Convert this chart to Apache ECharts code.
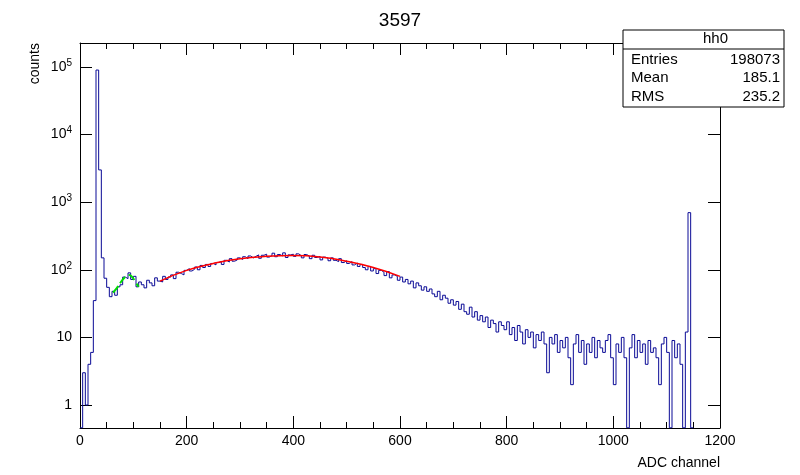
<!DOCTYPE html>
<html>
<head>
<meta charset="UTF-8">
<title>3597</title>
<script src="https://cdn.jsdelivr.net/npm/echarts/dist/echarts.min.js"></script>
<style>
  html, body { margin: 0; background: #fff; }
  #chart { width: 800px; height: 475px; }
</style>
</head>
<body>
<div id="chart"></div>
<script>
// histogram, 5-channel bins, starting at channel 0
const binWidth = 5;
const counts = [
  0.46, 3, 1, 4, 6, 35, 90000, 3000, 150, 75, 55, 40, 48, 42, 56, 60, 78, 74, 90, 72,
  80, 56, 66, 60, 54, 70, 64, 58, 76, 68, 66, 80, 72, 78, 84, 74, 92, 88, 84, 98,
  104, 96, 102, 110, 100, 116, 108, 120, 112, 124, 118, 128, 132, 120, 138, 130, 146, 134, 140, 150,
  142, 156, 146, 160, 150, 158, 166, 148, 164, 170, 154, 162, 176, 156, 168, 160, 178, 152, 166, 170,
  158, 172, 162, 150, 168, 160, 146, 164, 152, 158, 140, 154, 148, 136, 150, 138, 132, 146, 128, 136,
  124, 132, 118, 126, 112, 120, 108, 100, 112, 96, 104, 88, 98, 92, 82, 94, 76, 84, 80, 70,
  78, 66, 72, 62, 68, 54, 64, 58, 50, 56, 48, 52, 44, 40, 48, 36, 42, 38, 32, 36,
  30, 34, 26, 31, 24, 22, 28, 20, 24, 18, 21, 17, 20, 14, 18, 16, 12, 17, 15, 13,
  17, 11, 14, 9, 15, 12, 8, 13, 10, 12, 7, 11, 9, 12, 8, 3, 10, 8, 11, 6,
  9, 7, 10, 5, 2, 8, 11, 6, 9, 4, 8, 6, 10, 5, 9, 7, 6, 9, 11, 5,
  2, 8, 6, 10, 5, 0.46, 7, 11, 5, 9, 6, 8, 4, 9, 6, 7, 5, 2, 8, 10,
  6, 0.46, 9, 5, 8, 4, 0.46, 12, 700, 0.46
];
// fit curves [channel, value]
const greenFit = [[62, 46], [70, 55], [78, 68], [86, 80], [92, 84], [98, 78], [104, 66], [110, 56]];
const redFit = [[150, 68], [200, 98], [250, 124], [300, 146], [350, 158], [400, 162], [450, 155], [500, 134], [550, 108], [600, 80]];
const stats = [['Entries', '198073'], ['Mean', '185.1'], ['RMS', '235.2']];

const histData = counts.map((v, i) => [i * binWidth, v]);
histData.push([counts.length * binWidth, counts[counts.length - 1]]);

const font = 'Liberation Sans, Arial, sans-serif';
function logLabel(v) {
  const e = Math.round(Math.log10(v));
  if (Math.abs(Math.log10(v) - e) > 1e-6) return '';
  if (e === 0) return '1';
  if (e === 1) return '10';
  return '10{s|' + e + '}';
}

const xCommon = {
  type: 'value', min: 0, max: 1200, interval: 200,
  axisLine: { show: true, onZero: false, lineStyle: { color: '#000' } },
  axisTick: { inside: true, length: 12, lineStyle: { color: '#000' } },
  minorTick: { show: true, splitNumber: 4, length: 6, lineStyle: { color: '#000' } },
  splitLine: { show: false }
};
const yCommon = {
  type: 'log', min: 0.457, max: 226000, logBase: 10,
  axisLine: { show: true, onZero: false, lineStyle: { color: '#000' } },
  axisTick: { inside: true, length: 12, lineStyle: { color: '#000' } },
  splitLine: { show: false }
};

const option = {
  backgroundColor: '#fff',
  animation: false,
  title: {
    text: '3597', left: 'center', top: 6,
    textStyle: { fontFamily: font, fontSize: 19, fontWeight: 'normal', color: '#000' }
  },
  grid: { left: 80, right: 80, top: 43, bottom: 47 },
  xAxis: [
    Object.assign({}, xCommon, {
      position: 'bottom',
      name: 'ADC channel', nameLocation: 'end', nameGap: 0,
      nameTextStyle: { fontFamily: font, fontSize: 14, color: '#000', align: 'right', verticalAlign: 'top', padding: [28, 0, 0, 0] },
      axisLabel: { fontFamily: font, fontSize: 14, color: '#000', margin: 6, formatter: v => String(v) }
    }),
    Object.assign({}, xCommon, { position: 'top', axisLabel: { show: false } })
  ],
  yAxis: [
    Object.assign({}, yCommon, {
      position: 'left',
      name: 'counts', nameLocation: 'end', nameRotate: 90, nameGap: 0,
      nameTextStyle: { fontFamily: font, fontSize: 14, color: '#000', align: 'right', verticalAlign: 'bottom', padding: [0, 0, 38, 0] },
      axisLabel: {
        fontFamily: font, fontSize: 14, color: '#000', margin: 8,
        formatter: logLabel, showMinLabel: false, showMaxLabel: false,
        rich: { s: { fontSize: 10, verticalAlign: 'top', padding: [0, 0, 8, 0], fontFamily: font } }
      }
    }),
    Object.assign({}, yCommon, { position: 'right', axisLabel: { show: false } })
  ],
  series: [
    {
      type: 'line', data: histData, step: 'end', symbol: 'none',
      lineStyle: { color: '#0a0a96', width: 1 }, clip: true, z: 2
    },
    {
      type: 'line', data: greenFit, smooth: true, symbol: 'none',
      lineStyle: { color: '#00dd00', width: 2, type: 'dashed' }, z: 3
    },
    {
      type: 'line', data: redFit, smooth: true, symbol: 'none',
      lineStyle: { color: '#ff0000', width: 1.5 }, z: 3
    }
  ],
  graphic: [
    { type: 'rect', shape: { x: 623, y: 30, width: 161, height: 77 }, style: { fill: '#fff', stroke: '#000', lineWidth: 1 }, z: 10 },
    { type: 'line', shape: { x1: 623, y1: 49, x2: 784, y2: 49 }, style: { stroke: '#000', lineWidth: 1 }, z: 11 },
    { type: 'text', left: 703, top: 31, style: { text: 'hh0', font: '15px ' + font, fill: '#000', textAlign: 'center' }, z: 11 }
  ].concat(stats.flatMap((s, i) => [
    { type: 'text', left: 631, top: 52 + i * 18.5, style: { text: s[0], font: '15px ' + font, fill: '#000' }, z: 11 },
    { type: 'text', right: 20, top: 52 + i * 18.5, style: { text: s[1], font: '15px ' + font, fill: '#000', textAlign: 'right' }, z: 11 }
  ]))
};

const chart = echarts.init(document.getElementById('chart'));
chart.setOption(option);
</script>
</body>
</html>
